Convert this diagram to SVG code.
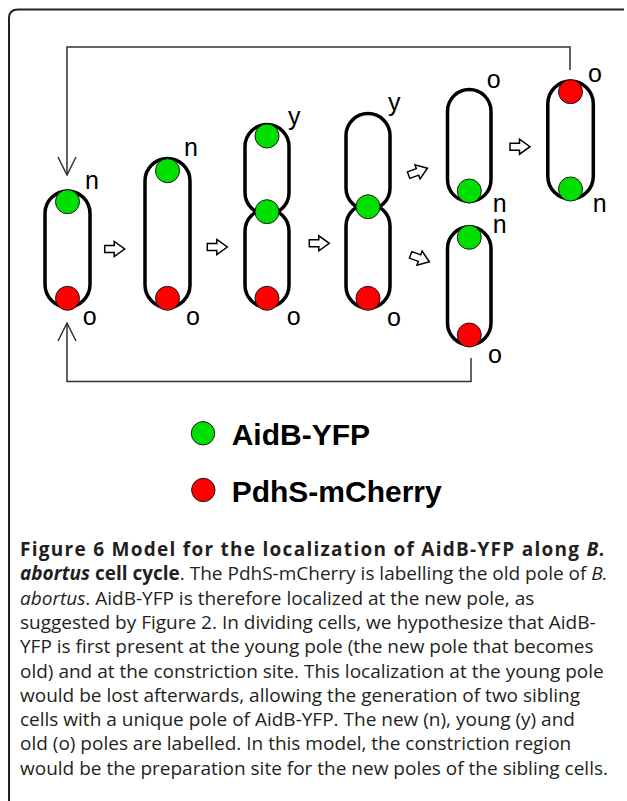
<svg xmlns="http://www.w3.org/2000/svg" width="627" height="801" viewBox="0 0 627 801">
<style>
.cell{fill:none;stroke:#000;stroke-width:3.5}
.g{fill:#00e000;stroke:#1a1a1a;stroke-width:1}
.r{fill:#ff0000;stroke:#1a1a1a;stroke-width:1}
.lbl{font-family:"Liberation Sans",Arial,sans-serif;font-size:25px;fill:#000}
.conn{fill:none;stroke:#333;stroke-width:1.5}
.ba{fill:#fff;stroke:#000;stroke-width:1.5;stroke-linejoin:miter}
.leg{font-family:"Liberation Sans",Arial,sans-serif;font-size:30px;font-weight:bold;fill:#000}
.cap{font-family:"Open Sans","Noto Sans",sans-serif;font-size:19px;fill:#231f20}
.b{font-weight:bold}
.i{font-style:italic}
</style>
<defs>
<marker id="oa" viewBox="0 0 20 20" refX="19" refY="10" markerWidth="20" markerHeight="20" markerUnits="userSpaceOnUse" orient="auto">
<path d="M1,1 L19,10 L1,19" fill="none" stroke="#333" stroke-width="1.5"/>
</marker>
<path id="blk" d="M-10,-3.5 H-0.5 V-7.5 L10,0 L-0.5,7.5 V3.5 H-10 Z"/>
</defs>
<path id="frame" d="M9,801 V18 Q9,9.5 18,9.5 H624" fill="none" stroke="#222" stroke-width="2"/>
<g id="connectors">
<path class="conn" d="M570,70 V47 H67 V175" marker-end="url(#oa)"/>
<path class="conn" d="M471,358 V381.5 H67 V323" marker-end="url(#oa)"/>
<use href="#blk" class="ba" transform="translate(114.7,249)"/>
<use href="#blk" class="ba" transform="translate(217.3,247)"/>
<use href="#blk" class="ba" transform="translate(319.3,243.3)"/>
<use href="#blk" class="ba" transform="translate(418,171.7) rotate(-20)"/>
<use href="#blk" class="ba" transform="translate(420,258.3) rotate(20)"/>
<use href="#blk" class="ba" transform="translate(520,146.7)"/>
</g>
<g id="cell1">
<rect class="cell" x="45" y="191" width="45" height="116" rx="22.5"/>
<circle class="g" cx="67.5" cy="201.7" r="12"/>
<circle class="r" cx="67.5" cy="298.3" r="12"/>
<text class="lbl" x="85" y="189">n</text>
<text class="lbl" x="82.7" y="325">o</text>
</g>
<g id="cell2">
<rect class="cell" x="145" y="158.5" width="45" height="149" rx="22.5"/>
<circle class="g" cx="167.5" cy="170.7" r="12"/>
<circle class="r" cx="167.5" cy="298.3" r="12"/>
<text class="lbl" x="184" y="156">n</text>
<text class="lbl" x="186" y="325">o</text>
</g>
<g id="cell3">
<rect class="cell" x="245" y="124.5" width="44" height="90" rx="22"/>
<rect class="cell" x="245" y="209" width="44" height="98.2" rx="22"/>
<circle class="g" cx="267" cy="136" r="12"/>
<circle class="g" cx="267" cy="211.7" r="12"/>
<circle class="r" cx="267" cy="298.3" r="12"/>
<text class="lbl" x="288" y="124.7">y</text>
<text class="lbl" x="286.7" y="325">o</text>
</g>
<g id="cell4">
<rect class="cell" x="346" y="113.5" width="44" height="96.5" rx="22"/>
<rect class="cell" x="346" y="204" width="44" height="104.3" rx="22"/>
<circle class="g" cx="368" cy="206.7" r="12"/>
<circle class="r" cx="368" cy="298.3" r="12"/>
<text class="lbl" x="388" y="111">y</text>
<text class="lbl" x="387" y="326">o</text>
</g>
<g id="cell5">
<rect class="cell" x="447.5" y="89.5" width="43.5" height="112" rx="21.75"/>
<circle class="g" cx="469.3" cy="191" r="12"/>
<text class="lbl" x="486.7" y="88">o</text>
<text class="lbl" x="492.7" y="211.5">n</text>
</g>
<g id="cell6">
<rect class="cell" x="447.5" y="226.8" width="43.5" height="118" rx="21.75"/>
<circle class="g" cx="469.3" cy="237.3" r="12"/>
<circle class="r" cx="469.3" cy="335" r="12"/>
<text class="lbl" x="492.7" y="233">n</text>
<text class="lbl" x="488" y="363">o</text>
</g>
<g id="cell7">
<rect class="cell" x="547.8" y="81" width="45.5" height="118" rx="22.75"/>
<circle class="r" cx="570.5" cy="91.7" r="12"/>
<circle class="g" cx="570.5" cy="189" r="12"/>
<text class="lbl" x="588" y="81.7">o</text>
<text class="lbl" x="592.7" y="211.7">n</text>
</g>
<g id="legend">
<circle class="g" cx="203" cy="433.3" r="11.7"/>
<text class="leg" x="231.7" y="445">AidB-YFP</text>
<circle class="r" cx="203.3" cy="490" r="11.7"/>
<text class="leg" x="231.7" y="501.7">PdhS-mCherry</text>
</g>
<g id="caption" class="cap">
<text x="20" y="556" textLength="585" lengthAdjust="spacing"><tspan class="b">Figure 6 Model for the localization of AidB-YFP along </tspan><tspan class="b i">B.</tspan></text>
<text x="20" y="580.3"><tspan class="b i">abortus</tspan><tspan class="b"> cell cycle</tspan>. The PdhS-mCherry is labelling the old pole of <tspan class="i">B.</tspan></text>
<text x="20" y="604.6"><tspan class="i">abortus</tspan>. AidB-YFP is therefore localized at the new pole, as</text>
<text x="20" y="628.9">suggested by Figure 2. In dividing cells, we hypothesize that AidB-</text>
<text x="20" y="653.2">YFP is first present at the young pole (the new pole that becomes</text>
<text x="20" y="677.5">old) and at the constriction site. This localization at the young pole</text>
<text x="20" y="701.8">would be lost afterwards, allowing the generation of two sibling</text>
<text x="20" y="726.1">cells with a unique pole of AidB-YFP. The new (n), young (y) and</text>
<text x="20" y="750.4">old (o) poles are labelled. In this model, the constriction region</text>
<text x="20" y="774.7">would be the preparation site for the new poles of the sibling cells.</text>
</g>
</svg>
